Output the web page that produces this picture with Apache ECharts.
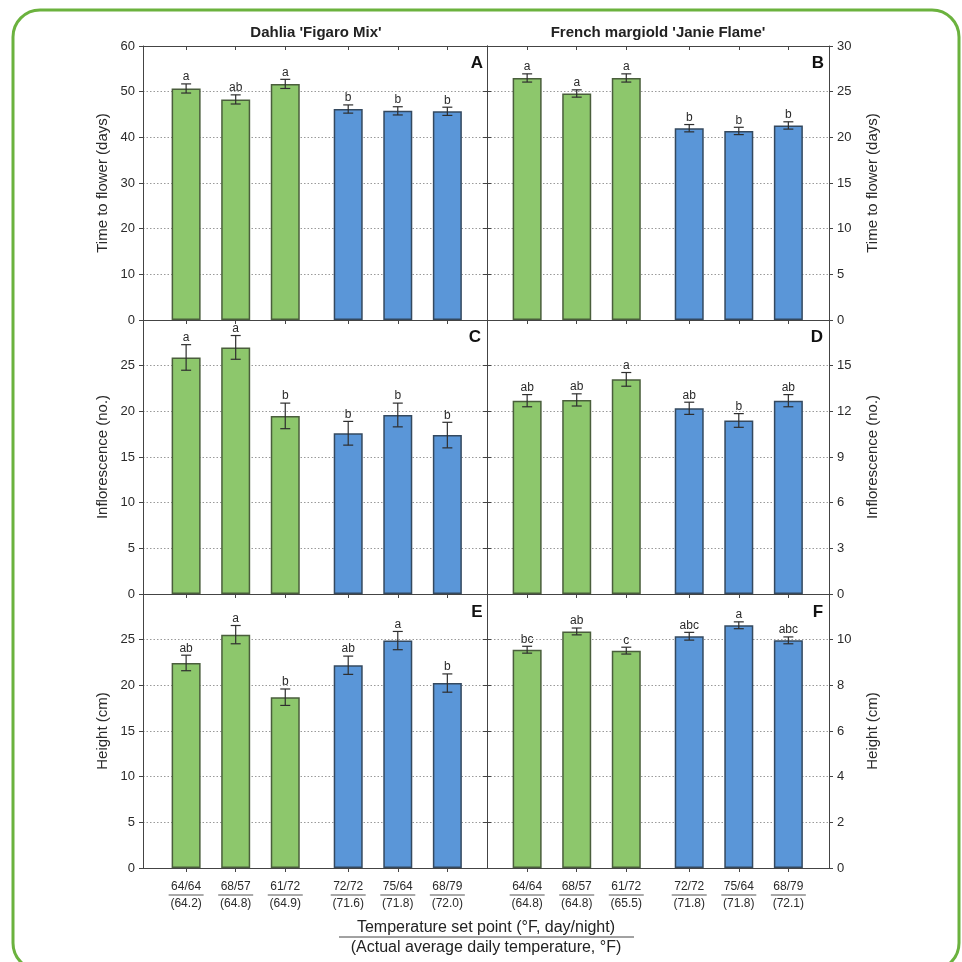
<!DOCTYPE html>
<html>
<head>
<meta charset="utf-8">
<script src="https://cdn.jsdelivr.net/npm/echarts@6/dist/echarts.min.js"></script>
<style>
html,body{margin:0;padding:0;background:#fff;}
#chart{width:962px;height:962px;}
</style>
</head>
<body>
<div id="chart"></div>
<script>
// ---------- DATA ----------
const setPoints = ['64/64', '68/57', '61/72', '72/72', '75/64', '68/79'];
const dahliaActual = ['(64.2)', '(64.8)', '(64.9)', '(71.6)', '(71.8)', '(72.0)'];
const marigoldActual = ['(64.8)', '(64.8)', '(65.5)', '(71.8)', '(71.8)', '(72.1)'];

const dahliaDays = [50.7, 48.3, 51.7, 46.2, 45.8, 45.7];
const dahliaDaysErr = [1.0, 1.0, 1.0, 0.9, 0.9, 0.9];
const dahliaDaysLetters = ['a', 'ab', 'a', 'b', 'b', 'b'];

const marigoldDays = [26.5, 24.8, 26.5, 21.0, 20.7, 21.3];
const marigoldDaysErr = [0.45, 0.4, 0.45, 0.4, 0.4, 0.4];
const marigoldDaysLetters = ['a', 'a', 'a', 'b', 'b', 'b'];

const dahliaInflo = [25.9, 27.0, 19.5, 17.6, 19.6, 17.4];
const dahliaInfloErr = [1.4, 1.3, 1.4, 1.3, 1.3, 1.4];
const dahliaInfloLetters = ['a', 'a', 'b', 'b', 'b', 'b'];

const marigoldInflo = [12.7, 12.75, 14.1, 12.2, 11.4, 12.7];
const marigoldInfloErr = [0.4, 0.4, 0.45, 0.4, 0.45, 0.4];
const marigoldInfloLetters = ['ab', 'ab', 'a', 'ab', 'b', 'ab'];

const dahliaHeight = [22.45, 25.55, 18.7, 22.2, 24.9, 20.25];
const dahliaHeightErr = [0.85, 1.0, 0.9, 1.0, 1.0, 1.0];
const dahliaHeightLetters = ['ab', 'a', 'b', 'ab', 'a', 'b'];

const marigoldHeight = [9.56, 10.36, 9.52, 10.15, 10.63, 9.97];
const marigoldHeightErr = [0.15, 0.15, 0.15, 0.17, 0.15, 0.15];
const marigoldHeightLetters = ['bc', 'ab', 'c', 'abc', 'a', 'abc'];

const columnTitles = ["Dahlia 'Figaro Mix'", "French margiold 'Janie Flame'"];
const axisNames = ['Time to flower (days)', 'Inflorescence (no.)', 'Height (cm)'];
const panelLetters = ['A', 'B', 'C', 'D', 'E', 'F'];
const xTitle1 = 'Temperature set point (°F, day/night)';
const xTitle2 = '(Actual average daily temperature, °F)';

// ---------- LAYOUT ----------
const FONT = '"Liberation Sans", Arial, Helvetica, sans-serif';
const GREEN = '#8DC76C', GREEN_B = '#4a5e3c';
const BLUE = '#5A96D8', BLUE_B = '#34495f';
const AX = '#444';
const TXT = '#2a2a2a';

// bar positions on the x scale: two groups of three with a small gap
const positions = setPoints.map((_, i) => i + 1 + (i >= 3 ? 0.27 : 0));

const rows = [{top: 46, height: 274}, {top: 320, height: 274}, {top: 594, height: 274}];
const cols = [{left: 143, width: 344, xmin: 0.13, xmax: 7.07},
              {left: 487, width: 342, xmin: 0.19, xmax: 7.09}];

const panels = [
  {col: 0, row: 0, v: dahliaDays, e: dahliaDaysErr, l: dahliaDaysLetters, max: 60, step: 10, showMax: true, actual: dahliaActual},
  {col: 1, row: 0, v: marigoldDays, e: marigoldDaysErr, l: marigoldDaysLetters, max: 30, step: 5, showMax: true, actual: marigoldActual},
  {col: 0, row: 1, v: dahliaInflo, e: dahliaInfloErr, l: dahliaInfloLetters, max: 30, step: 5, showMax: false, actual: dahliaActual},
  {col: 1, row: 1, v: marigoldInflo, e: marigoldInfloErr, l: marigoldInfloLetters, max: 18, step: 3, showMax: false, actual: marigoldActual},
  {col: 0, row: 2, v: dahliaHeight, e: dahliaHeightErr, l: dahliaHeightLetters, max: 30, step: 5, showMax: false, actual: dahliaActual},
  {col: 1, row: 2, v: marigoldHeight, e: marigoldHeightErr, l: marigoldHeightLetters, max: 12, step: 2, showMax: false, actual: marigoldActual}
];

const grid = [], xAxis = [], yAxis = [], series = [];

function posIndex(val) {
  return positions.findIndex(p => Math.abs(p - val) < 1e-6);
}

panels.forEach((p, g) => {
  const c = cols[p.col], r = rows[p.row];
  grid.push({left: c.left, width: c.width, top: r.top, height: r.height, containLabel: false});
  const isBottom = p.row === 2;
  xAxis.push({
    gridIndex: g, type: 'value', position: 'bottom', min: c.xmin, max: c.xmax,
    axisLine: {show: true, onZero: false, lineStyle: {color: AX, width: 1}},
    axisTick: {show: true, customValues: positions, length: 4, inside: false, lineStyle: {color: AX}},
    splitLine: {show: false},
    axisLabel: isBottom ? {
      show: true, customValues: positions, margin: 12, interval: 0,
      formatter: function (val) {
        const i = posIndex(val);
        if (i < 0) return '';
        return '{t|' + setPoints[i] + '}\n{u| }\n{b|' + p.actual[i] + '}';
      },
      rich: {
        t: {fontSize: 12, color: TXT, fontFamily: FONT, lineHeight: 13, align: 'center'},
        u: {fontSize: 1, width: 35, height: 1, lineHeight: 4, backgroundColor: '#555', align: 'center'},
        b: {fontSize: 12, color: TXT, fontFamily: FONT, lineHeight: 14, align: 'center'}
      }
    } : {show: false}
  });
  xAxis.push({
    gridIndex: g, type: 'value', position: 'top', min: c.xmin, max: c.xmax,
    axisLine: {show: true, onZero: false, lineStyle: {color: AX, width: 1}},
    axisTick: {show: true, customValues: positions, length: 4, inside: true, lineStyle: {color: AX}},
    splitLine: {show: false},
    axisLabel: {show: false}
  });
  const mainPos = p.col === 0 ? 'left' : 'right';
  const oppPos = p.col === 0 ? 'right' : 'left';
  yAxis.push({
    gridIndex: g, type: 'value', position: mainPos, min: 0, max: p.max, interval: p.step,
    axisLine: {show: true, onZero: false, lineStyle: {color: AX, width: 1}},
    axisTick: {show: true, length: 4, lineStyle: {color: AX}},
    axisLabel: {show: true, fontSize: 13, color: TXT, fontFamily: FONT, margin: 8, showMaxLabel: p.showMax, showMinLabel: true},
    splitLine: {show: true, lineStyle: {type: [1.5, 2], color: '#9a9a9a', width: 1}},
    name: axisNames[p.row], nameLocation: 'middle', nameRotate: 90,
    nameGap: p.col === 0 ? 33 : 36,
    nameTextStyle: {fontSize: 15, color: TXT, fontFamily: FONT}
  });
  yAxis.push({
    gridIndex: g, type: 'value', position: oppPos, min: 0, max: p.max, interval: p.step,
    axisLine: {show: true, onZero: false, lineStyle: {color: AX, width: 1}},
    axisTick: {show: true, length: 4, lineStyle: {color: AX}},
    axisLabel: {show: false},
    splitLine: {show: false}
  });
  const xi = 2 * g, yi = 2 * g;
  series.push({
    type: 'bar', xAxisIndex: xi, yAxisIndex: yi, barWidth: 29,
    data: p.v.map((v, i) => ({
      value: [positions[i], v],
      itemStyle: {color: i < 3 ? GREEN : BLUE, borderColor: i < 3 ? GREEN_B : BLUE_B, borderWidth: 1.5}
    })),
    z: 2, silent: true, animation: false
  });
  const letters = p.l;
  series.push({
    type: 'custom', xAxisIndex: xi, yAxisIndex: yi, z: 5, silent: true, animation: false,
    data: p.v.map((v, i) => [positions[i], v, p.e[i]]),
    renderItem: function (params, api) {
      const x = api.value(0), v = api.value(1), e = api.value(2);
      const top = api.coord([x, v + e]);
      const bot = api.coord([x, v - e]);
      const cx = top[0];
      const st = {stroke: '#2e2e2e', lineWidth: 1.2};
      return {
        type: 'group',
        children: [
          {type: 'line', shape: {x1: cx, y1: top[1], x2: cx, y2: bot[1]}, style: st},
          {type: 'line', shape: {x1: cx - 5, y1: top[1], x2: cx + 5, y2: top[1]}, style: st},
          {type: 'line', shape: {x1: cx - 5, y1: bot[1], x2: cx + 5, y2: bot[1]}, style: st},
          {type: 'text', x: cx, y: top[1] - 1,
           style: {text: letters[params.dataIndex], textAlign: 'center', textVerticalAlign: 'bottom',
                   font: '12px ' + FONT, fill: TXT}}
        ]
      };
    }
  });
});

const letterPos = [[477, 63], [818, 63], [475, 337], [817, 337], [477, 612], [818, 612]];

const graphic = [
  {type: 'rect', shape: {x: 13, y: 10, width: 946, height: 960, r: 27},
   style: {fill: 'none', stroke: '#6BB23E', lineWidth: 3}, z: 100, silent: true},
  {type: 'text', x: 316, y: 33, style: {text: columnTitles[0], textAlign: 'center', textVerticalAlign: 'middle',
    font: 'bold 15px ' + FONT, fill: '#222'}},
  {type: 'text', x: 658, y: 33, style: {text: columnTitles[1], textAlign: 'center', textVerticalAlign: 'middle',
    font: 'bold 15px ' + FONT, fill: '#222'}},
  {type: 'text', x: 486, y: 928, style: {text: xTitle1, textAlign: 'center', textVerticalAlign: 'middle',
    font: '16px ' + FONT, fill: '#222'}},
  {type: 'line', shape: {x1: 339, y1: 937, x2: 634, y2: 937}, style: {stroke: '#444', lineWidth: 1}},
  {type: 'text', x: 486, y: 948, style: {text: xTitle2, textAlign: 'center', textVerticalAlign: 'middle',
    font: '16px ' + FONT, fill: '#222'}}
];
panelLetters.forEach((t, i) => {
  graphic.push({type: 'text', x: letterPos[i][0], y: letterPos[i][1],
    style: {text: t, textAlign: 'center', textVerticalAlign: 'middle', font: 'bold 17px ' + FONT, fill: '#111'}, z: 50});
});

const chart = echarts.init(document.getElementById('chart'), null, {renderer: 'canvas'});
chart.setOption({
  backgroundColor: '#fff',
  animation: false,
  grid: grid,
  xAxis: xAxis,
  yAxis: yAxis,
  series: series,
  graphic: graphic
});
</script>
</body>
</html>
